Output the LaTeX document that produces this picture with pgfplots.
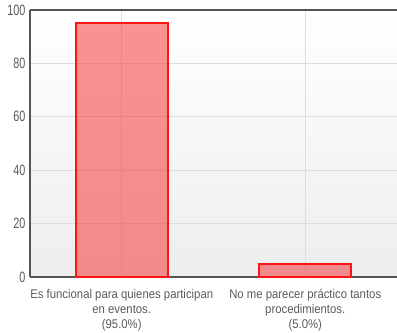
\documentclass[border=0pt]{standalone}
\usepackage{fontspec}
\setmainfont{Liberation Sans}
\newfontfamily\tickfont[FakeStretch=0.72]{Liberation Sans}
\newfontfamily\labfont[FakeStretch=0.9]{Liberation Sans}
\usepackage{pgfplots}
\pgfplotsset{compat=1.18}
\definecolor{axline}{HTML}{555555}
\definecolor{gridc}{HTML}{DDDDDD}
\definecolor{txt}{HTML}{5A5A5A}
\begin{document}
\begin{tikzpicture}
\useasboundingbox (-30bp,-56bp) rectangle (367bp,277bp);
\begin{axis}[
  at={(0,0)}, anchor=south west,
  scale only axis,
  width=367bp, height=267bp,
  xmin=-0.5, xmax=1.5,
  ymin=0, ymax=100,
  axis x line=box, axis y line=left,
  axis line style={draw=axline, line width=2bp, -},
  ytick={0,20,40,60,80,100},
  xtick={0,1},
  xticklabels={{Es funcional para quienes participan\\en eventos.\\(95.0\%)},{No me parecer práctico tantos\\procedimientos.\\(5.0\%)}},
  major tick length=0pt,
  xmajorgrids, ymajorgrids,
  grid style={draw=gridc, line width=1bp},
  axis background/.style={top color=white, bottom color=black!7},
  yticklabel style={font=\tickfont\fontsize{15bp}{18bp}\selectfont, text=txt, xshift=-1bp},
  xticklabel style={font=\labfont\fontsize{12.6bp}{15bp}\selectfont, text=txt, align=center, yshift=-9bp},
  /pgf/number format/assume math mode=true,
  clip=false,
]
\addplot[ybar, bar width=0.5, fill={rgb,255:red,245;green,40;blue,40}, fill opacity=0.5,
  draw={rgb,255:red,255;green,20;blue,20}, draw opacity=1, line width=2bp]
  coordinates {(0,95) (1,5)};
\end{axis}
\end{tikzpicture}
\end{document}
